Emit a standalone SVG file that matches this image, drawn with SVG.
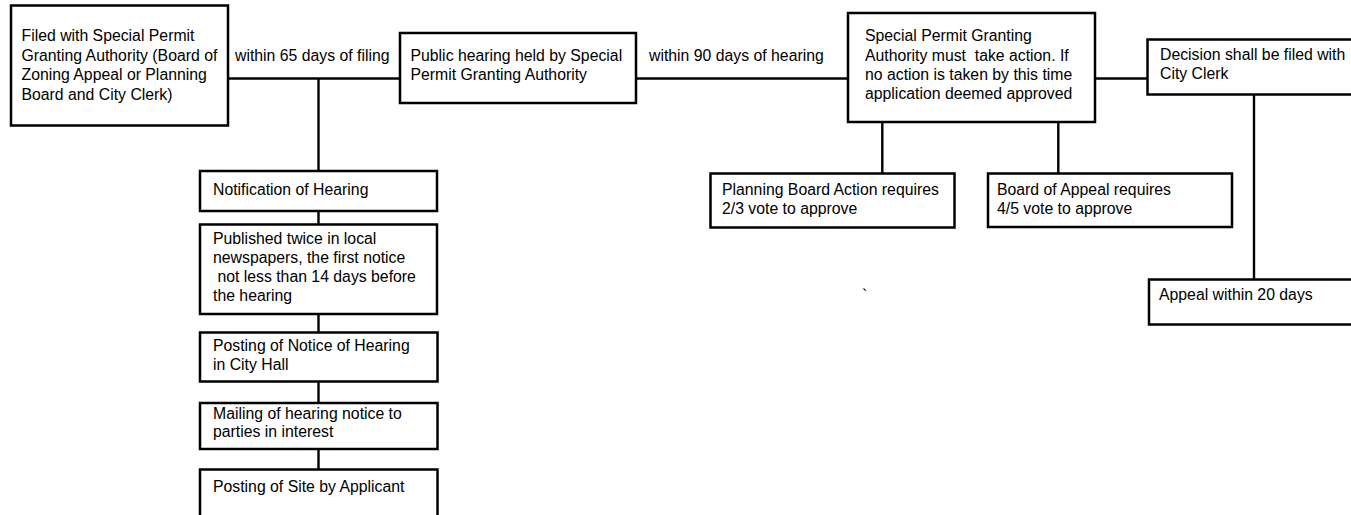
<svg xmlns="http://www.w3.org/2000/svg" width="1351" height="515" viewBox="0 0 1351 515">
<style>
  .box { fill: #ffffff; stroke: #000000; stroke-width: 2.5; }
  .ln { stroke: #000000; stroke-width: 2.4; fill: none; }
  text { font-family: "Liberation Sans", Arial, sans-serif; font-size: 15.8px; fill: #000000; white-space: pre; }
</style>
<rect width="1351" height="515" fill="#ffffff"/>
<g id="connectors">
  <line class="ln" x1="228" y1="78.5" x2="400" y2="78.5"/>
  <line class="ln" x1="318.5" y1="78.5" x2="318.5" y2="171"/>
  <line class="ln" x1="636" y1="78.5" x2="848" y2="78.5"/>
  <line class="ln" x1="1095" y1="78.5" x2="1147.5" y2="78.5"/>
  <line class="ln" x1="318.5" y1="211" x2="318.5" y2="224.5"/>
  <line class="ln" x1="318.5" y1="314" x2="318.5" y2="332.5"/>
  <line class="ln" x1="318.5" y1="381.5" x2="318.5" y2="403"/>
  <line class="ln" x1="318.5" y1="449" x2="318.5" y2="469.5"/>
  <line class="ln" x1="882.3" y1="122" x2="882.3" y2="173.5"/>
  <line class="ln" x1="1058.3" y1="122" x2="1058.3" y2="173.5"/>
  <line class="ln" x1="1254" y1="94" x2="1254" y2="279.5"/>
  <text x="235" y="60.5">within 65 days of filing</text>
  <text x="649" y="60.5">within 90 days of hearing</text>
</g>
<g id="filed">
  <rect class="box" x="11" y="5.5" width="217" height="120"/>
  <text x="21.5" y="41">Filed with Special Permit</text>
  <text x="21.5" y="60.5">Granting Authority (Board of</text>
  <text x="21.5" y="80">Zoning Appeal or Planning</text>
  <text x="21.5" y="99.5">Board and City Clerk)</text>
</g>
<g id="public-hearing">
  <rect class="box" x="400" y="33" width="236" height="70"/>
  <text x="410.5" y="60.5">Public hearing held by Special</text>
  <text x="410.5" y="79.5">Permit Granting Authority</text>
</g>
<g id="spga-action">
  <rect class="box" x="848" y="13" width="247" height="109"/>
  <text x="865" y="41">Special Permit Granting</text>
  <text x="865" y="60.5">Authority must  take action. If</text>
  <text x="865" y="80">no action is taken by this time</text>
  <text x="865" y="99">application deemed approved</text>
</g>
<g id="decision">
  <rect class="box" x="1147.5" y="39.5" width="250" height="55"/>
  <text x="1160" y="60">Decision shall be filed with</text>
  <text x="1160" y="79">City Clerk</text>
</g>
<g id="notification">
  <rect class="box" x="200" y="171" width="237" height="40"/>
  <text x="213" y="195">Notification of Hearing</text>
</g>
<g id="published">
  <rect class="box" x="200" y="224.5" width="237" height="89.5"/>
  <text x="213" y="244">Published twice in local</text>
  <text x="213" y="263">newspapers, the first notice</text>
  <text x="213" y="282"> not less than 14 days before</text>
  <text x="213" y="301">the hearing</text>
</g>
<g id="posting-notice">
  <rect class="box" x="200" y="332.5" width="237.5" height="49"/>
  <text x="213" y="351">Posting of Notice of Hearing</text>
  <text x="213" y="369.5">in City Hall</text>
</g>
<g id="mailing">
  <rect class="box" x="200" y="403" width="237.5" height="46"/>
  <text x="213" y="418.5">Mailing of hearing notice to</text>
  <text x="213" y="437">parties in interest</text>
</g>
<g id="posting-site">
  <rect class="box" x="200" y="469.5" width="237.5" height="70"/>
  <text x="213" y="492">Posting of Site by Applicant</text>
</g>
<g id="planning-board">
  <rect class="box" x="710.5" y="173.5" width="244" height="54"/>
  <text x="722" y="195">Planning Board Action requires</text>
  <text x="722" y="214">2/3 vote to approve</text>
</g>
<g id="board-of-appeal">
  <rect class="box" x="988" y="173.5" width="244" height="53.5"/>
  <text x="997" y="195">Board of Appeal requires</text>
  <text x="997" y="214">4/5 vote to approve</text>
</g>
<g id="appeal">
  <rect class="box" x="1149" y="279.5" width="250" height="45"/>
  <text x="1159" y="300">Appeal within 20 days</text>
</g>
<text x="862" y="300.5">`</text>
</svg>
